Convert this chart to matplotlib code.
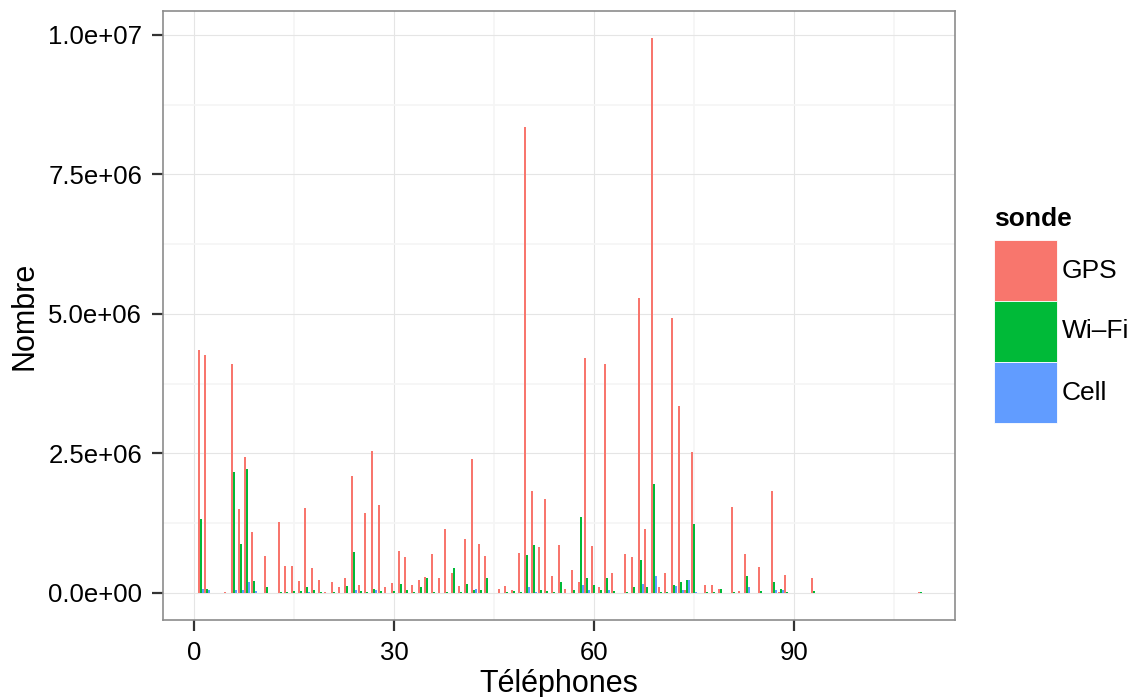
import matplotlib
matplotlib.use("Agg")
import matplotlib.pyplot as plt
from matplotlib.patches import Rectangle
import numpy as np

plt.rcParams['font.family'] = ['Liberation Sans', 'DejaVu Sans']

# phone id and counts per probe type (millions)
phones = [1, 2, 5, 6, 7, 8, 9, 11, 13, 14, 15, 16, 17, 18, 19, 20, 21, 22, 23, 24,
          25, 26, 27, 28, 29, 30, 31, 32, 33, 34, 35, 36, 37, 38, 39, 40, 41, 42, 43, 44,
          46, 47, 48, 49, 50, 51, 52, 53, 54, 55, 56, 57, 58, 59, 60, 61, 62, 63, 65, 66,
          67, 68, 69, 70, 71, 72, 73, 74, 75, 77, 78, 79, 81, 82, 83, 85, 87, 88, 89, 93,
          109]
gps = [4.36, 4.27, 0.01, 4.11, 1.50, 2.44, 1.10, 0.66, 1.28, 0.48, 0.48, 0.22, 1.52, 0.45, 0.23, 0.02, 0.20, 0.10, 0.27, 2.10,
       0.15, 1.44, 2.54, 1.58, 0.10, 0.18, 0.75, 0.64, 0.15, 0.24, 0.28, 0.70, 0.26, 1.14, 0.35, 0.13, 0.97, 2.40, 0.87, 0.67,
       0.08, 0.13, 0.06, 0.72, 8.36, 1.83, 0.83, 1.68, 0.30, 0.86, 0.08, 0.42, 0.20, 4.21, 0.84, 0.11, 4.11, 0.35, 0.70, 0.64,
       5.28, 1.14, 9.95, 0.10, 0.35, 4.93, 3.36, 0.05, 2.53, 0.15, 0.15, 0.08, 1.55, 0.03, 0.70, 0.46, 1.82, 0.02, 0.32, 0.27,
       0.02]
wifi = [1.33, 0.07, 0.00, 2.16, 0.88, 2.23, 0.22, 0.10, 0.02, 0.02, 0.03, 0.03, 0.10, 0.05, 0.02, 0.00, 0.02, 0.00, 0.13, 0.73,
        0.03, 0.02, 0.07, 0.03, 0.00, 0.03, 0.17, 0.05, 0.02, 0.10, 0.26, 0.02, 0.00, 0.02, 0.44, 0.02, 0.17, 0.05, 0.05, 0.26,
        0.00, 0.02, 0.04, 0.02, 0.68, 0.86, 0.05, 0.03, 0.02, 0.20, 0.00, 0.06, 1.36, 0.26, 0.15, 0.05, 0.26, 0.03, 0.02, 0.11,
        0.59, 0.11, 1.96, 0.02, 0.02, 0.15, 0.20, 0.24, 1.23, 0.02, 0.02, 0.08, 0.02, 0.00, 0.30, 0.03, 0.20, 0.08, 0.02, 0.03,
        0.02]
cell = [0.07, 0.05, 0.00, 0.05, 0.05, 0.20, 0.03, 0.00, 0.00, 0.00, 0.00, 0.00, 0.02, 0.00, 0.00, 0.00, 0.00, 0.00, 0.00, 0.05,
        0.00, 0.00, 0.05, 0.00, 0.00, 0.00, 0.00, 0.00, 0.00, 0.00, 0.00, 0.00, 0.00, 0.00, 0.00, 0.00, 0.00, 0.08, 0.00, 0.00,
        0.00, 0.00, 0.00, 0.00, 0.10, 0.02, 0.00, 0.00, 0.00, 0.00, 0.00, 0.00, 0.15, 0.05, 0.00, 0.00, 0.05, 0.00, 0.00, 0.00,
        0.17, 0.00, 0.30, 0.00, 0.00, 0.12, 0.05, 0.24, 0.02, 0.00, 0.00, 0.00, 0.00, 0.00, 0.10, 0.00, 0.05, 0.06, 0.00, 0.00,
        0.00]

series = ['GPS', 'Wi\u2013Fi', 'Cell']
colors = ['#F8766D', '#00BA38', '#619CFF']

W, H = 1135, 697
x = np.array(phones, dtype=float)
width = 0.3

fig = plt.figure(figsize=(W / 100, H / 100), dpi=100)
ax = fig.add_axes([163 / W, 1 - 620 / H, (955 - 163) / W, (620 - 11) / H])

for i, (vals, c) in enumerate(zip([gps, wifi, cell], colors)):
    ax.bar(x + (i - 1) * width, np.array(vals) * 1e6, width=width, color=c,
           linewidth=0, zorder=3)

ax.set_xlim(-4.65, 114.15)
ax.set_ylim(-0.484e6, 10.43e6)

ax.set_xticks([0, 30, 60, 90])
ax.set_xticks([15, 45, 75, 105], minor=True)
ax.set_yticks([0, 2.5e6, 5e6, 7.5e6, 1e7])
ax.set_yticklabels(['0.0e+00', '2.5e+06', '5.0e+06', '7.5e+06', '1.0e+07'])
ax.set_yticks([1.25e6, 3.75e6, 6.25e6, 8.75e6], minor=True)

ax.grid(which='major', color='#E5E5E5', linewidth=0.8, zorder=0)
ax.grid(which='minor', color='#F5F5F5', linewidth=1.2, zorder=0)
ax.set_axisbelow(True)

for s in ax.spines.values():
    s.set_color('#8C8C8C')
    s.set_linewidth(1.2)

ax.tick_params(axis='both', which='major', labelsize=18.5, length=8, width=1.6,
               color='#333333', labelcolor='#000000', pad=7)
ax.tick_params(axis='both', which='minor', length=0)

ax.set_xlabel('T\u00e9l\u00e9phones', fontsize=22, labelpad=3)
ax.set_ylabel('Nombre', fontsize=22, labelpad=6)

# legend drawn by hand to get ggplot-like key blocks
key_left, key_w = 994, 63
row_tops = [240, 301, 362]
row_h = 61
fig.text(key_left / W, 1 - 219 / H, 'sonde', fontsize=19, fontweight='bold',
         ha='left', va='center')
for top, c, lab in zip(row_tops, colors, series):
    fig.add_artist(Rectangle((key_left / W, 1 - (top + row_h) / H), key_w / W, row_h / H,
                             transform=fig.transFigure, facecolor=c,
                             edgecolor='white', linewidth=0.6))
    fig.text(1062 / W, 1 - (top + row_h / 2) / H, lab, fontsize=19,
             ha='left', va='center')

fig.savefig('out.png', dpi=100)
